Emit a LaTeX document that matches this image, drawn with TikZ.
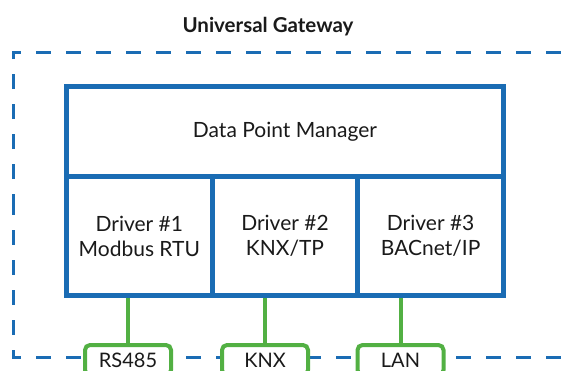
\documentclass[tikz,border=0pt]{standalone}
\usepackage{fontspec}
\setmainfont{Lato}
\usetikzlibrary{positioning}
\definecolor{gwb}{HTML}{1A6CB4}
\definecolor{lnk}{HTML}{52B043}
\definecolor{txt}{HTML}{1A1A1A}

\begin{document}
\begin{tikzpicture}[x=1pt, y=-1pt, font=\fontsize{21}{25}\selectfont, text=txt,
  block/.style={draw=gwb, line width=5pt, fill=white, outer sep=0pt, inner sep=0pt, align=center},
  port/.style={draw=lnk, line width=4pt, fill=white, rounded corners=5pt, minimum width=86pt, text height=14pt, text depth=0pt, inner ysep=8pt, anchor=north, font=\fontsize{20}{24}\selectfont},
  link/.style={draw=lnk, line width=4pt, shorten >=2.5pt},
  gwframe/.style={draw=gwb, line width=3pt, dash pattern=on 15pt off 15pt, dash phase=4.5pt}]
\useasboundingbox (0,0) rectangle (561,370);
\clip (0,0) rectangle (561,370);
\node[font=\fontsize{20.5}{25}\selectfont\bfseries] (title) at (268,27) {Universal Gateway};
% gateway border, runs past the right edge
\draw[gwframe] (13,204.5) -- (13,52) -- (575,52);
\draw[gwframe] (13,204.5) -- (13,357) -- (575,357);
% manager on top of the three drivers
\node[block, minimum width=437pt, minimum height=90pt] (dpm) at (285,131.5) {Data Point Manager};
\node[block, minimum width=145.67pt, minimum height=119pt, anchor=north west] (drv1) at (dpm.south west) {Driver \#1\\Modbus RTU};
\node[block, minimum width=145.67pt, minimum height=119pt, right=0pt of drv1] (drv2) {Driver \#2\\KNX/TP};
\node[block, minimum width=145.67pt, minimum height=119pt, right=0pt of drv2] (drv3) {Driver \#3\\BACnet/IP};
% field ports
\node[port] (rs) at (128,343) {RS485};
\node[port] (knx) at (265,343) {KNX};
\node[port] (lan) at (400.5,343) {LAN};
\draw[link] (rs.north) -- (rs.north |- drv1.south);
\draw[link] (knx.north) -- (knx.north |- drv2.south);
\draw[link] (lan.north) -- (lan.north |- drv3.south);
\end{tikzpicture}
\end{document}
